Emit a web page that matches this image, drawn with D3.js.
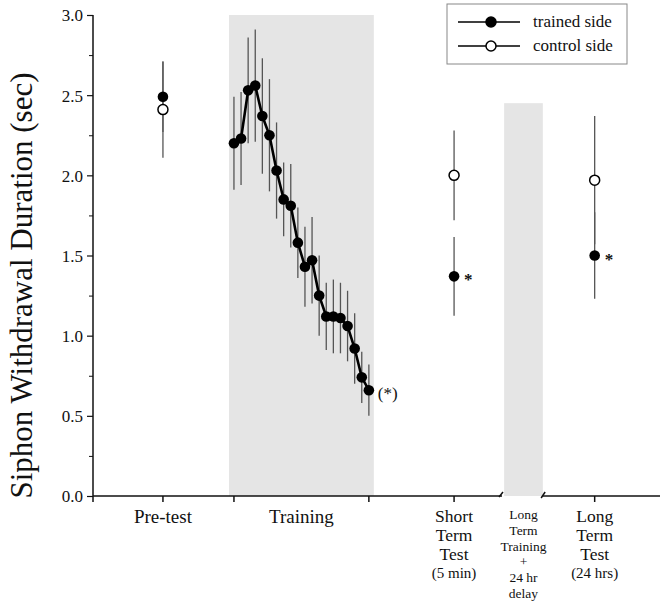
<!DOCTYPE html>
<html><head><meta charset="utf-8">
<script src="https://cdn.jsdelivr.net/npm/d3@7"></script>
<style>body{margin:0;background:#fff}</style>
</head><body><svg id="c" width="666" height="601"></svg>
<script>
// ---- data ----
const trainingTrials = d3.range(1, 21);
const trainingMeans = [2.20,2.23,2.53,2.56,2.37,2.25,2.03,1.85,1.81,1.58,1.43,1.47,1.25,1.12,1.12,1.11,1.06,0.92,0.74,0.66];
const trainingSEM  = [0.29,0.29,0.33,0.35,0.36,0.35,0.30,0.23,0.26,0.22,0.25,0.27,0.25,0.21,0.23,0.22,0.22,0.22,0.16,0.16];
const testPhases = ["Pre-test","Short Term Test","Long Term Test"];
const testPos = [-9, 32, 51.8];
const trainedMeans = [2.49, 1.37, 1.50];
const trainedSEM = [0.22, 0.245, 0.27];
const controlMeans = [2.41, 2.00, 1.97];
const controlSEM = [0.30, 0.28, 0.40];
const yTicks = [0,0.5,1.0,1.5,2.0,2.5,3.0];
const yMinorTicks = [0.25,0.75,1.25,1.75,2.25,2.75];
const xTickPos = [-9, 1, 20, 32, 51.8];

const FONT = '"Liberation Serif","Times New Roman",serif';
const svg = d3.select("#c").style("font-family", FONT);
const x = d3.scaleLinear().domain([-18.85, 61]).range([93, 660]);
const y = d3.scaleLinear().domain([0, 3]).range([496, 15]);

function txt(sel){ return sel.attr("font-family", FONT).style("font-family", FONT).attr("fill","#111"); }

// shaded bands
svg.append("rect").attr("x", x(0.3)).attr("width", x(20.7)-x(0.3))
  .attr("y", y(3)).attr("height", y(0)-y(3)).attr("fill", "#e5e5e5");
svg.append("rect").attr("x", x(39.05)).attr("width", x(44.5)-x(39.05))
  .attr("y", y(2.45)).attr("height", y(0)-y(2.45)).attr("fill", "#e5e5e5");

// y axis
const yAxis = d3.axisLeft(y).tickValues(yTicks).tickFormat(d3.format(".1f")).tickSize(6).tickPadding(4);
const gy = svg.append("g").attr("transform", `translate(${x.range()[0]},0)`).call(yAxis);
gy.attr("font-family", FONT);
gy.select(".domain").remove();
gy.selectAll("line").attr("stroke","#111").attr("stroke-width",1.2);
txt(gy.selectAll("text")).style("font-size","17px").attr("dy","0.35em");
const gm = svg.append("g").attr("transform", `translate(${x.range()[0]},0)`)
  .call(d3.axisLeft(y).tickValues(yMinorTicks).tickSize(4).tickFormat(""));
gm.select(".domain").remove();
gm.selectAll("line").attr("stroke","#111");
svg.append("line").attr("x1", x.range()[0]).attr("x2", x.range()[0])
  .attr("y1", y(3)).attr("y2", y(0)+6).attr("stroke","#111").attr("stroke-width",1.5);

// x axis (broken)
const xl = svg.append("g").attr("stroke","#111").attr("stroke-width",1.5).attr("fill","none");
xl.append("line").attr("x1", x.range()[0]).attr("x2", x(38.75)).attr("y1", y(0)).attr("y2", y(0));
xl.append("line").attr("x1", x(44.4)).attr("x2", x.range()[1]).attr("y1", y(0)).attr("y2", y(0));
xl.append("path").attr("d", `M${x(38.75)-3},${y(0)+1}L${x(38.75)+1},${y(0)-4}`);
xl.append("path").attr("d", `M${x(44.4)-1},${y(0)+2}L${x(44.4)+3},${y(0)-4}`);
xl.selectAll(".xt").data(xTickPos).enter().append("line")
  .attr("x1", d=>x(d)).attr("x2", d=>x(d)).attr("y1", y(0)).attr("y2", y(0)+6);

// y label
txt(svg.append("text")).attr("transform", `translate(32,${(y(0)+y(3))/2+30}) rotate(-90)`)
  .attr("text-anchor","middle").style("font-size","31px").text("Siphon Withdrawal Duration (sec)");

// x labels
txt(svg.append("text")).attr("x", x(-9)).attr("y", 523).attr("text-anchor","middle").style("font-size","19px").text("Pre-test");
txt(svg.append("text")).attr("x", (x(1)+x(20))/2).attr("y", 523).attr("text-anchor","middle").style("font-size","19px").text("Training");
[["Short","Term","Test","(5 min)"],["Long","Term","Test","(24 hrs)"]].forEach((lines,k)=>{
  const cx = x(k===0 ? testPos[1] : testPos[2]);
  const ys = [522,541,560,578];
  lines.forEach((s,i)=>txt(svg.append("text")).attr("x",cx).attr("y",ys[i]).attr("text-anchor","middle")
    .style("font-size",(i===3?15:17.5)+"px").text(s));
});
["Long","Term","Training","+","24 hr","delay"].forEach((s,i)=>{
  txt(svg.append("text")).attr("x",(x(39.05)+x(44.5))/2).attr("y",519+i*15.8).attr("text-anchor","middle")
    .style("font-size","13.5px").text(s);
});

// error bars
const eb = svg.append("g").attr("stroke","#555").attr("stroke-width",1.3);
eb.selectAll(".t").data(trainingTrials).enter().append("line")
  .attr("x1", d=>x(d)).attr("x2", d=>x(d))
  .attr("y1", (d,i)=>y(trainingMeans[i]+trainingSEM[i])).attr("y2",(d,i)=>y(trainingMeans[i]-trainingSEM[i]));
testPos.forEach((p,i)=>{
  eb.append("line").attr("x1",x(p)).attr("x2",x(p)).attr("y1",y(controlMeans[i]+controlSEM[i])).attr("y2",y(controlMeans[i]-controlSEM[i]));
  eb.append("line").attr("x1",x(p)).attr("x2",x(p)).attr("y1",y(trainedMeans[i]+trainedSEM[i])).attr("y2",y(trainedMeans[i]-trainedSEM[i]));
});

// training line & dots
svg.append("path").datum(trainingTrials)
  .attr("d", d3.line().x(d=>x(d)).y((d,i)=>y(trainingMeans[i])))
  .attr("fill","none").attr("stroke","#000").attr("stroke-width",2.6);
svg.selectAll(".td").data(trainingTrials).enter().append("circle")
  .attr("cx", d=>x(d)).attr("cy",(d,i)=>y(trainingMeans[i])).attr("r",5.3).attr("fill","#000");

// test dots
testPos.forEach((p,i)=>{
  svg.append("circle").attr("cx",x(p)).attr("cy",y(controlMeans[i])).attr("r",5).attr("fill","#fff").attr("stroke","#000").attr("stroke-width",1.5);
  svg.append("circle").attr("cx",x(p)).attr("cy",y(trainedMeans[i])).attr("r",5.3).attr("fill","#000");
});

// significance marks
[1,2].forEach(i=>{
  txt(svg.append("text")).attr("x", x(testPos[i])+10).attr("y", y(trainedMeans[i])+9).style("font-size","17px").style("font-weight","bold").text("*");
});
txt(svg.append("text")).attr("x", x(20)+9).attr("y", y(trainingMeans[19])+9).style("font-size","17px").text("(*)");

// legend
const lg = svg.append("g");
lg.append("rect").attr("x",447).attr("y",4).attr("width",180).attr("height",60).attr("fill","#fff").attr("stroke","#888").attr("stroke-width",1);
[["trained side","#000",22],["control side","#fff",46]].forEach(([lab,fill,yy])=>{
  lg.append("line").attr("x1",458).attr("x2",520).attr("y1",yy).attr("y2",yy).attr("stroke","#000").attr("stroke-width",1.5);
  lg.append("circle").attr("cx",491).attr("cy",yy).attr("r",5).attr("fill",fill).attr("stroke","#000").attr("stroke-width",1.5);
  txt(lg.append("text")).attr("x",533).attr("y",yy+5).style("font-size","17px").text(lab);
});
</script></body></html>
